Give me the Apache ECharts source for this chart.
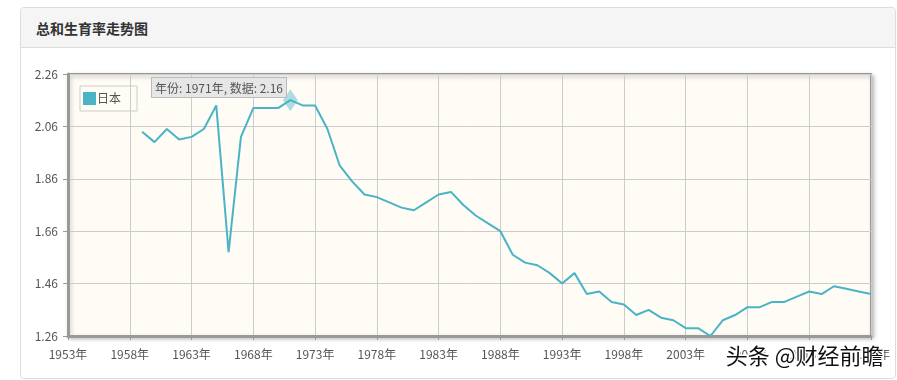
<!DOCTYPE html>
<html>
<head>
<meta charset="utf-8">
<script src="https://cdn.jsdelivr.net/npm/echarts@6/dist/echarts.min.js"></script>
<style>
  html, body { margin: 0; padding: 0; background: #fff; }
  #panel { position: absolute; left: 20px; top: 7px; width: 874px; height: 370px; border: 1px solid #ddd; border-radius: 4px; background: #fff; }
  #head { position: absolute; left: 0; top: 0; right: 0; height: 40px; background: #f5f5f5; border-bottom: 1px solid #ddd; border-radius: 4px 4px 0 0;
          font: bold 14px "Noto Sans CJK SC", "Microsoft YaHei", sans-serif; color: #333; line-height: 40px; padding-left: 15px; box-sizing: border-box; }
  #chart { position: absolute; left: 0; top: 0; width: 897px; height: 380px; }
</style>
</head>
<body>
<div id="panel"><div id="head"></div></div>
<div id="chart"></div>
<script>
const title = '总和生育率走势图';
const seriesName = '日本';
const years = [];
for (let y = 1953; y <= 2018; y++) years.push(y + '年');
const tfr = [
  null, null, null, null, null, null,
  2.04, 2.00, 2.05, 2.01, 2.02, 2.05, 2.14, 1.58, 2.02, 2.13,
  2.13, 2.13, 2.16, 2.14, 2.14, 2.05, 1.91, 1.85, 1.80, 1.79,
  1.77, 1.75, 1.74, 1.77, 1.80, 1.81, 1.76, 1.72, 1.69, 1.66,
  1.57, 1.54, 1.53, 1.50, 1.46, 1.50, 1.42, 1.43, 1.39, 1.38,
  1.34, 1.36, 1.33, 1.32, 1.29, 1.29, 1.26, 1.32, 1.34, 1.37,
  1.37, 1.39, 1.39, 1.41, 1.43, 1.42, 1.45, 1.44, 1.43, 1.42
];
const highlightYear = '1971年';
const highlightData = years.map((y, i) => y === highlightYear ? tfr[i] : null);
const yTicks = { min: 1.26, max: 2.26, step: 0.2 };
const watermark = '头条 @财经前瞻';

document.getElementById('head').textContent = title;

const font = '"Noto Sans CJK SC", "Microsoft YaHei", sans-serif';
const lineColor = '#4ab3c6';
const chart = echarts.init(document.getElementById('chart'), null, { renderer: 'canvas' });
chart.setOption({
  animation: false,
  textStyle: { fontFamily: font },
  legend: {
    data: [seriesName], left: 80, top: 86,
    orient: 'vertical',
    padding: [6, 16, 6, 3],
    borderColor: '#ccc', borderWidth: 1,
    itemWidth: 13, itemHeight: 13, itemGap: 4,
    icon: 'rect',
    textStyle: { color: '#555', fontSize: 12, padding: [0, 0, 0, -4] },
    selectedMode: false
  },
  tooltip: {
    trigger: 'item',
    triggerOn: 'none',
    alwaysShowContent: true,
    transitionDuration: 0,
    backgroundColor: 'rgba(228,228,228,0.92)',
    borderColor: '#bbb', borderWidth: 1, borderRadius: 0,
    padding: [1, 3],
    extraCssText: 'box-shadow:none;line-height:17px;',
    textStyle: { color: '#555', fontSize: 12, fontFamily: font },
    position: function () { return [151, 77]; },
    formatter: function (p) { return '年份: ' + p.name + ', 数据: ' + p.value; }
  },
  grid: {
    left: 68, right: 26, top: 74, bottom: 44,
    show: true,
    backgroundColor: '#fefcf5',
    borderColor: '#999', borderWidth: 2,
    shadowColor: 'rgba(0,0,0,0.25)', shadowBlur: 4, shadowOffsetX: 2, shadowOffsetY: 2
  },
  xAxis: {
    type: 'category', data: years, boundaryGap: false,
    axisLine: { lineStyle: { color: '#999', width: 3 } },
    axisTick: { show: true, interval: 4, length: 4, lineStyle: { color: '#999' } },
    axisLabel: { interval: 4, color: '#555', fontSize: 12, margin: 12 },
    splitLine: { show: true, interval: 4, lineStyle: { color: '#ccc', width: 1 } }
  },
  yAxis: {
    type: 'value', min: yTicks.min, max: yTicks.max, interval: yTicks.step,
    axisLine: { show: true, lineStyle: { color: '#999', width: 3 } },
    axisTick: { show: true, length: 5, lineStyle: { color: '#999' } },
    axisLabel: { color: '#555', fontSize: 12, margin: 10, formatter: v => v.toFixed(2) },
    splitLine: { show: true, lineStyle: { color: '#ccc', width: 1 } }
  },
  series: [
    {
      name: seriesName, type: 'line', data: tfr,
      showSymbol: false, symbol: 'none',
      itemStyle: { color: lineColor },
      lineStyle: { color: lineColor, width: 2 },
      tooltip: { show: false }
    },
    {
      name: 'hl', type: 'scatter', data: highlightData,
      symbol: 'diamond', symbolSize: [15, 22],
      itemStyle: { color: 'rgba(74,179,198,0.55)' },
      z: 5
    }
  ],
  graphic: [
    {
      type: 'text', right: 12, bottom: 12, z: 100,
      style: {
        text: watermark, fontSize: 22, fontFamily: font,
        fill: '#111', stroke: '#fff', lineWidth: 3
      }
    }
  ]
});
const hi = years.indexOf(highlightYear);
chart.dispatchAction({ type: 'showTip', seriesIndex: 1, dataIndex: hi });
</script>
</body>
</html>
